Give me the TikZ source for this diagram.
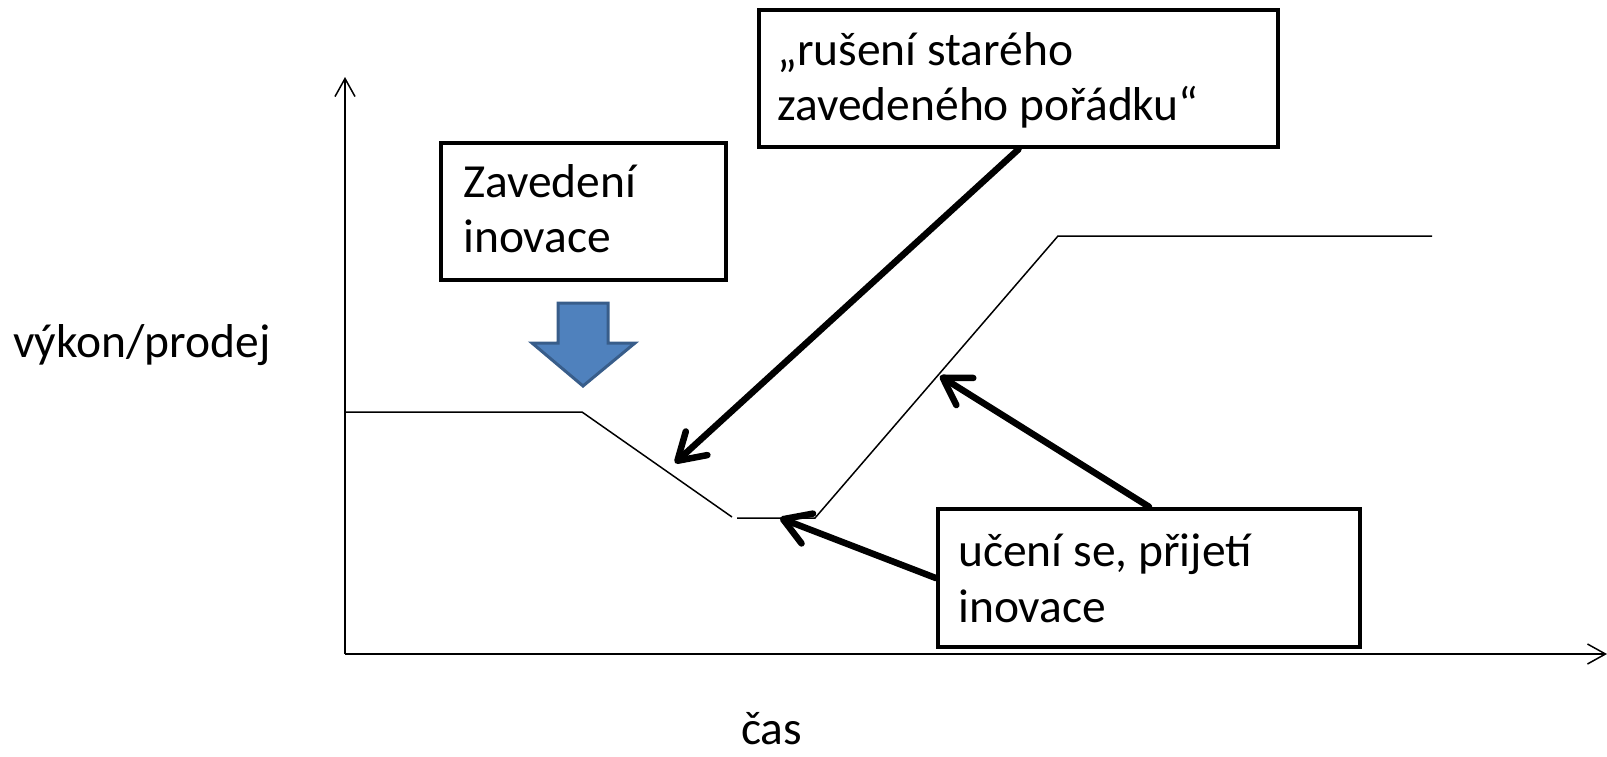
\documentclass[tikz,border=0pt]{standalone}
\usepackage{fontspec}
\setmainfont{Carlito}
\usetikzlibrary{arrows.meta}
\definecolor{arrfill}{HTML}{4F81BD}
\definecolor{arrline}{HTML}{385D8A}
\begin{document}
\begin{tikzpicture}[x=1pt,y=-1pt,
  txt/.style={inner sep=0pt,anchor=base west,font=\fontsize{47.5}{56}\selectfont},
  box/.style={draw,line width=4.5pt,inner sep=0pt},
  curve/.style={line width=1.5pt},
  axis/.style={line width=1.5pt,-{Straight Barb[length=18pt,width=20pt,line width=1.5pt]}},
  bigarrow/.style={line width=6.5pt,line cap=round,-{Straight Barb[round,length=26pt,width=32pt]}}]
\useasboundingbox (0,0) rectangle (1607,756);
% axes
\coordinate (o) at (345,654);
\coordinate (ytop) at (345,77);
\coordinate (xend) at (1607,654);
\draw[axis] (o) -- (ytop);
\draw[axis] (o) -- (xend);
% performance curve
\coordinate (p0) at (345,412);
\coordinate (p1) at (582,412);
\coordinate (p2) at (732,517);
\coordinate (p3) at (737,518);
\coordinate (p4) at (815,518);
\coordinate (p5) at (1058,236);
\coordinate (p6) at (1432,236);
\draw[curve] (p0) -- (p1) -- (p2);
\draw[curve] (p3) -- (p4) -- (p5) -- (p6);
% axis labels
\node[txt] (ylab) at (13,357) {výkon/prodej};
\node[txt] (xlab) at (741,744) {čas};
% boxes
\node[box,minimum width=285pt,minimum height=137pt] (zb) at (583.5,211.5) {};
\node[txt] (zt1) at (463,197) {Zavedení};
\node[txt] (zt2) at (463,252) {inovace};
\node[box,minimum width=519pt,minimum height=137pt] (rb) at (1018.5,78.5) {};
\node[txt] (rt1) at (777,65) {„rušení starého};
\node[txt] (rt2) at (777,120) {zavedeného pořádku“};
\node[box,minimum width=422pt,minimum height=138pt] (ub) at (1149,578) {};
\node[txt] (ut1) at (958,566) {učení se, přijetí};
\node[txt] (ut2) at (958,622) {inovace};
% blue block arrow
\draw[line width=3pt,draw=arrline,fill=arrfill,line join=miter]
  (558,303) -- (608,303) -- (608,343) -- (635,343) -- (583,386) -- (532,343) -- (558,343) -- cycle;
% thick arrows
\coordinate (t1) at (675,463);
\coordinate (t2) at (940,376);
\coordinate (t3) at (780,518);
\draw[bigarrow] (rb.south) -- (t1);
\draw[bigarrow] (ub.north) -- (t2);
\draw[bigarrow] (ub.west) -- (t3);
\end{tikzpicture}
\end{document}
